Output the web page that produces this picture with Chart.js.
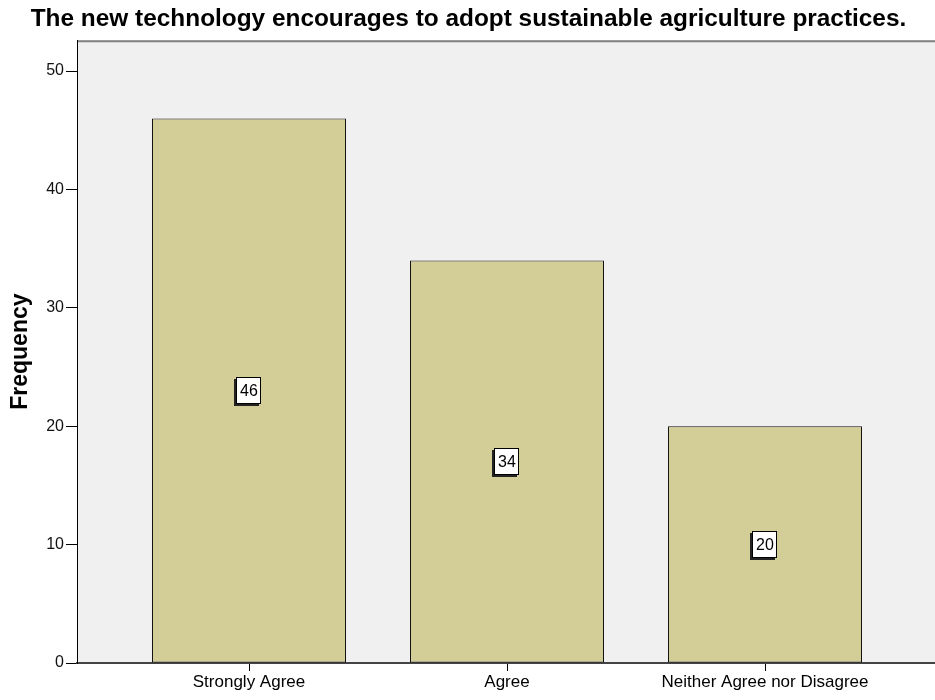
<!DOCTYPE html>
<html>
<head>
<meta charset="utf-8">
<script src="https://cdn.jsdelivr.net/npm/chart.js@4"></script>
<style>
html,body{margin:0;padding:0;background:#fff;overflow:hidden;}
#wrap{width:940px;height:700px;position:relative;}
</style>
</head>
<body>
<div id="wrap"><canvas id="c" width="940" height="700"></canvas></div>
<script>
const titleText = "The new technology encourages to adopt sustainable agriculture practices.";
const categories = ["Strongly Agree", "Agree", "Neither Agree nor Disagree"];
const frequencies = [46, 34, 20];
const yTicks = [0, 10, 20, 30, 40, 50];
const yAxisTitle = "Frequency";

const plotBg = {
  id: 'plotBg',
  beforeDraw(chart) {
    const {ctx, chartArea: a} = chart;
    ctx.save();
    ctx.fillStyle = '#f0f0f0';
    ctx.fillRect(a.left, a.top, a.right - a.left, a.bottom - a.top);
    ctx.strokeStyle = '#808080';
    ctx.lineWidth = 2;
    ctx.beginPath();
    ctx.moveTo(a.left, a.top + 1);
    ctx.lineTo(a.right, a.top + 1);
    ctx.stroke();
    ctx.restore();
  }
};

const boxLabels = {
  id: 'boxLabels',
  afterDatasetsDraw(chart) {
    const {ctx} = chart;
    const meta = chart.getDatasetMeta(0);
    const ys = chart.scales.y;
    ctx.save();
    ctx.font = '16px "Liberation Sans", Arial, sans-serif';
    ctx.textAlign = 'center';
    ctx.textBaseline = 'middle';
    meta.data.forEach((bar, i) => {
      const v = frequencies[i];
      const cx = Math.round(bar.x);
      const cy = Math.round(ys.getPixelForValue(v / 2));
      const w = 25, h = 27;
      const x0 = cx - Math.round(w / 2), y0 = cy - Math.round(h / 2);
      ctx.fillStyle = '#222';
      ctx.fillRect(x0 - 2, y0 + 2, w, h);
      ctx.fillStyle = '#fff';
      ctx.fillRect(x0, y0, w, h);
      ctx.strokeStyle = '#000';
      ctx.lineWidth = 1;
      ctx.strokeRect(x0 + 0.5, y0 + 0.5, w - 1, h - 1);
      ctx.fillStyle = '#000';
      ctx.fillText(String(v), cx, cy + 1);
    });
    ctx.restore();
  }
};

new Chart(document.getElementById('c'), {
  type: 'bar',
  data: {
    datasets: [{
      data: frequencies.map((v, i) => ({x: i, y: v})),
      backgroundColor: '#d3cd98',
      borderColor: '#111',
      borderWidth: 1,
      borderSkipped: false,
      categoryPercentage: 1,
      barPercentage: 0.752
    }]
  },
  options: {
    responsive: false,
    animation: false,
    devicePixelRatio: 1,
    layout: {padding: {left: 0, right: 3, top: 0, bottom: 0}},
    plugins: {
      legend: {display: false},
      tooltip: {enabled: false},
      title: {
        display: true,
        text: titleText,
        color: '#000',
        font: {family: '"Liberation Sans", Arial, sans-serif', size: 24.4, weight: 'bold'},
        padding: {top: 5, bottom: 6}
      }
    },
    scales: {
      x: {
        type: 'linear',
        offset: false,
        min: -2 / 3,
        max: 8 / 3,
        afterBuildTicks(axis) { axis.ticks = categories.map((_, i) => ({value: i})); },
        afterFit(axis) { axis.height = 37; },
        ticks: {
          autoSkip: false,
          maxRotation: 0,
          padding: 1,
          color: '#000',
          font: {family: '"Liberation Sans", Arial, sans-serif', size: 17},
          callback: (v) => categories[v] ?? ''
        },
        grid: {display: true, offset: false, drawOnChartArea: false, drawTicks: true, tickLength: 8, color: '#000', tickWidth: 1},
        border: {display: true, color: '#444', width: 2}
      },
      y: {
        min: 0,
        max: 52.6,
        afterBuildTicks(axis) { axis.ticks = yTicks.map(v => ({value: v})); },
        afterFit(axis) { axis.width = 77; },
        ticks: {
          padding: 2,
          color: '#111',
          font: {family: '"Liberation Sans", Arial, sans-serif', size: 16}
        },
        grid: {display: true, drawOnChartArea: false, drawTicks: true, tickLength: 11, color: '#000', tickWidth: 1},
        border: {display: true, color: '#000', width: 1},
        title: {
          display: true,
          text: yAxisTitle,
          color: '#000',
          padding: {top: 7, bottom: 0},
          font: {family: '"Liberation Sans", Arial, sans-serif', size: 23, weight: 'bold'}
        }
      }
    }
  },
  plugins: [plotBg, boxLabels]
});
</script>
</body>
</html>
